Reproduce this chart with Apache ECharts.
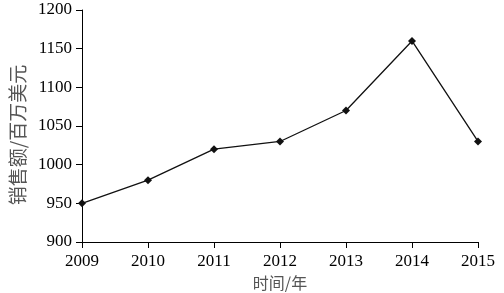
<!DOCTYPE html>
<html><head><meta charset="utf-8">
<script src="https://cdn.jsdelivr.net/npm/echarts@6/dist/echarts.min.js"></script>
<style>html,body{margin:0;padding:0;background:#fff}#c{width:504px;height:293px}</style>
</head><body><div id="c"></div>
<script>
const years = ['2009','2010','2011','2012','2013','2014','2015'];
const sales = [950, 980, 1020, 1030, 1070, 1160, 1030];
const xTitle = '时间/年';
const yTitle = '销售额/百万美元';
const chart = echarts.init(document.getElementById('c'), null, {renderer:'canvas'});
const serif = '"Liberation Serif","DejaVu Serif",serif';
chart.setOption({
  animation:false,
  grid:{left:82,right:26,top:10,bottom:51,outerBoundsMode:'none',containLabel:false},
  xAxis:{type:'category',data:years,boundaryGap:false,
    name:xTitle,nameLocation:'middle',nameGap:32,
    nameTextStyle:{fontFamily:'"Noto Sans CJK SC"',fontSize:16,color:'#555'},
    axisLine:{lineStyle:{color:'#000',width:1}},
    axisTick:{show:true,length:6,lineStyle:{color:'#000'}},
    axisLabel:{color:'#000',fontFamily:serif,fontSize:17,margin:11,formatter:v=>v},
    splitLine:{show:false}},
  yAxis:{type:'value',min:900,max:1200,interval:50,
    name:yTitle,nameLocation:'middle',nameGap:51,
    nameTextStyle:{fontFamily:'"Noto Sans CJK SC"',fontSize:19,color:'#555',padding:[0,18,0,0]},
    axisLine:{show:true,lineStyle:{color:'#000',width:1}},
    axisTick:{show:true,length:6,lineStyle:{color:'#000'}},
    axisLabel:{color:'#000',fontFamily:serif,fontSize:17,margin:10,formatter:v=>String(v)},
    splitLine:{show:false}},
  series:[{type:'line',data:sales,symbol:'diamond',symbolSize:8,
    lineStyle:{color:'#111',width:1.3},itemStyle:{color:'#111'}}]
});
</script></body></html>
